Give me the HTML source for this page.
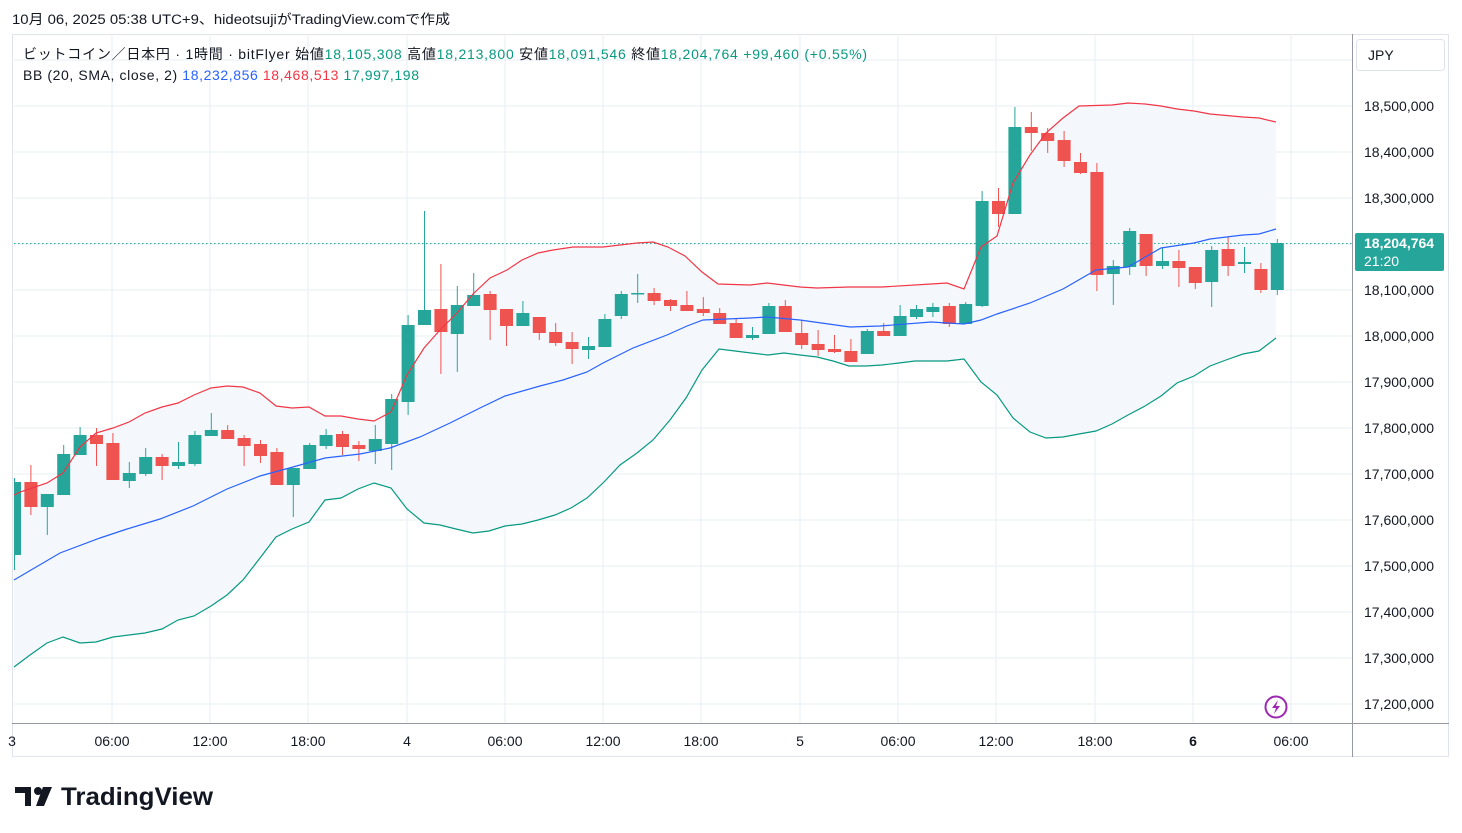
<!DOCTYPE html>
<html><head><meta charset="utf-8">
<style>
body{margin:0;background:#fff;width:1462px;height:833px;overflow:hidden;font-family:"Liberation Sans","Noto Sans CJK JP",sans-serif;}
svg{position:absolute;left:0;top:0}
</style></head><body>
<svg id="s" width="1462" height="833" xmlns="http://www.w3.org/2000/svg" font-family="Liberation Sans, Noto Sans CJK JP, sans-serif"></svg>
<script>
const s=document.getElementById('s');
let h='';
h+='<rect x="12.5" y="34.5" width="1436" height="722" fill="none" stroke="#e0e3eb"/>';
for(let k=-1;k<14;k++){const y=106+k*46;h+=`<line x1="14" x2="1352" y1="${y}" y2="${y}" stroke="#e8eff6"/>`;}
const vx=[112,210,308,407,505,603,701,800,898,996,1095,1193,1291];
vx.forEach(x=>h+=`<line x1="${x}" x2="${x}" y1="34" y2="723" stroke="#e8eff6"/>`);
const up=[[14,495],[20,492],[47,483],[63,473],[80,447],[96,433],[113,428],[129,422],[145,413],[162,407],[178,403],[194,395],[211,388],[227,386],[243,387],[260,393],[276,406],[292,408],[309,407],[325,416],[341,416],[358,419],[374,421],[391,412],[407,375],[424,348],[440,330],[457,313],[473,294],[490,278],[507,270],[522,260],[538,253],[553,250],[573,247],[603,247],[637,243],[653,242],[668,247],[685,256],[702,272],[718,284],[750,285],[767,283],[800,287],[817,288],[849,287],[882,287],[931,284],[947,283],[964,289],[981,247],[997,236],[1013,183],[1030,155],[1046,133],[1063,118],[1079,106],[1112,105],[1128,103],[1145,104],[1161,106],[1177,109],[1194,111],[1210,114],[1243,117],[1259,118],[1276,122]];
const mid=[[14,580],[60,553],[100,538],[127,529],[160,519],[193,506],[227,489],[260,476],[293,467],[325,458],[360,454],[390,448],[420,437],[450,423],[480,408],[505,396],[540,386],[563,380],[587,372],[603,363],[633,348],[667,335],[687,326],[703,320],[750,318],[767,317],[800,320],[850,327],[880,326],[931,322],[964,324],[981,320],[997,314],[1030,303],[1063,289],[1096,270],[1128,267],[1161,248],[1194,243],[1210,239],[1243,235],[1259,234],[1276,229]];
const lo=[[14,667],[30,655],[47,643],[63,637],[80,643],[96,642],[113,637],[129,635],[145,633],[162,629],[178,620],[194,616],[211,606],[227,595],[243,580],[260,558],[276,537],[292,529],[309,522],[325,500],[341,498],[358,489],[374,483],[391,488],[407,509],[424,523],[440,525],[456,529],[473,533],[489,531],[505,526],[522,524],[538,520],[555,515],[571,508],[587,498],[604,482],[620,465],[637,453],[653,440],[670,420],[686,398],[702,370],[719,349],[735,351],[751,353],[768,355],[784,353],[800,355],[817,357],[833,361],[849,366],[866,366],[882,365],[899,363],[915,361],[931,361],[947,361],[964,359],[981,382],[997,395],[1013,418],[1030,432],[1046,438],[1063,437],[1079,434],[1096,431],[1112,424],[1128,415],[1145,406],[1161,396],[1177,383],[1194,376],[1210,366],[1226,360],[1243,354],[1259,351],[1276,338]];
const pts=a=>a.map(p=>p.join(',')).join(' ');
h+=`<polygon points="${pts(up)} ${pts(lo.slice().reverse())}" fill="#f4f8fd"/>`;
h+='<line x1="14" x2="1352" y1="243.5" y2="243.5" stroke="#26a69a" stroke-dasharray="1.5,2.5"/>';
const C=[[555,482,478,570],[482,507,465,515],[507,494,494,535],[495,454,445,495],[455,435,427,455],[435,444,428,466],[443,480,433,480],[481,473,462,488],[474,457,448,476],[457,466,454,480],[466,462,442,469],[464,435,431,466],[436,430,413,436],[430,439,425,439],[438,446,435,466],[444,456,440,463],[452,485,448,485],[485,468,468,517],[469,445,443,469],[446,435,429,449],[434,447,431,455],[445,449,441,461],[451,439,425,464],[444,399,394,470],[402,325,315,415],[325,310,211,325],[309,332,264,374],[334,305,286,372],[306,295,273,306],[294,310,291,340],[309,326,309,346],[326,313,301,326],[317,333,317,340],[332,343,323,346],[342,349,332,364],[350,346,337,359],[347,319,314,347],[316,294,291,319],[293,293,274,303],[293,301,288,305],[300,306,299,311],[305,311,291,311],[309,313,297,316],[313,324,308,324],[323,338,318,338],[338,335,327,340],[334,306,303,334],[306,332,300,332],[333,345,320,349],[344,350,330,356],[349,352,335,353],[351,362,339,362],[354,331,329,354],[331,336,323,336],[336,316,305,336],[317,309,305,319],[312,307,303,317],[306,324,303,327],[324,304,302,324],[306,201,191,307],[201,214,188,227],[214,127,107,214],[127,133,112,151],[133,141,128,153],[140,161,131,167],[162,173,153,174],[172,275,163,291],[274,266,260,305],[267,231,228,275],[234,266,234,276],[266,261,248,269],[261,268,250,287],[267,283,267,289],[282,250,246,307],[249,266,237,276],[264,262,247,273],[269,290,263,293],[290,243,239,295]];
h+='<clipPath id="cp"><rect x="14" y="34" width="1338" height="689"/></clipPath><g clip-path="url(#cp)">';
C.forEach((c,i)=>{const x=14.5+16.4*i;const [o,cl,hi,lw]=c;const g=cl<=o;const col=g?'#26a69a':'#ef5350';
const t=Math.min(o,cl),b=Math.max(o,cl);
h+=`<line x1="${x}" x2="${x}" y1="${hi}" y2="${lw}" stroke="${col}"/>`;
h+=`<rect x="${x-6.5}" y="${t}" width="13" height="${Math.max(1.5,b-t)}" fill="${col}"/>`;});
h+='</g>';
h+=`<polyline points="${pts(up)}" fill="none" stroke="#f23645" stroke-width="1.2"/>`;
h+=`<polyline points="${pts(mid)}" fill="none" stroke="#2962ff" stroke-width="1.2"/>`;
h+=`<polyline points="${pts(lo)}" fill="none" stroke="#089981" stroke-width="1.2"/>`;
h+='<line x1="1352.5" x2="1352.5" y1="34" y2="757" stroke="#9598a1"/>';
h+='<line x1="12" x2="1449" y1="723.5" y2="723.5" stroke="#9598a1"/>';
const pl=['18,500,000','18,400,000','18,300,000','18,200,000','18,100,000','18,000,000','17,900,000','17,800,000','17,700,000','17,600,000','17,500,000','17,400,000','17,300,000','17,200,000'];
pl.forEach((t,k)=>{if(k==3)return;h+=`<text x="1364" y="${111+k*46}" font-size="14" fill="#131722">${t}</text>`;});
h+='<rect x="1355" y="233" width="89" height="38" fill="#26a69a" rx="2"/>';
h+='<text x="1364" y="248" font-size="14" font-weight="bold" fill="#fff">18,204,764</text>';
h+='<text x="1364" y="266" font-size="14" fill="#fff">21:20</text>';
h+='<rect x="1356.5" y="39.5" width="88" height="31" fill="#fff" stroke="#e0e3eb" rx="3"/>';
h+='<text x="1368" y="60" font-size="14" fill="#131722">JPY</text>';
const xl=[['3',12],['06:00',112],['12:00',210],['18:00',308],['4',407],['06:00',505],['12:00',603],['18:00',701],['5',800],['06:00',898],['12:00',996],['18:00',1095],['6',1193],['06:00',1291]];
xl.forEach(([t,x])=>h+=`<text x="${x}" y="746" font-size="14" text-anchor="middle" fill="#131722"${t=='6'?' font-weight="bold"':''}>${t}</text>`);
h+='<circle cx="1276" cy="707" r="10.5" fill="#fff" stroke="#9c27b0" stroke-width="2"/>';
h+='<path d="M1278 700 L1272 708 L1276 708 L1274 714 L1280 706 L1276 706 Z" fill="#9c27b0"/>';
h+='<text x="12" y="24" font-size="13.5" fill="#131722" textLength="438" lengthAdjust="spacingAndGlyphs">10月 06, 2025 05:38 UTC+9、hideotsujiがTradingView.comで作成</text>';
h+='<text x="23" y="59" font-size="14" fill="#131722" textLength="844" lengthAdjust="spacing">ビットコイン／日本円 · 1時間 · bitFlyer  始値<tspan fill="#089981">18,105,308</tspan> 高値<tspan fill="#089981">18,213,800</tspan> 安値<tspan fill="#089981">18,091,546</tspan> 終値<tspan fill="#089981">18,204,764</tspan> <tspan fill="#089981">+99,460 (+0.55%)</tspan></text>';
h+='<text x="23" y="80" font-size="14" fill="#131722" textLength="396" lengthAdjust="spacing">BB (20, SMA, close, 2) <tspan fill="#2962ff">18,232,856</tspan> <tspan fill="#f23645">18,468,513</tspan> <tspan fill="#089981">17,997,198</tspan></text>';
h+='<path d="M15 787 H31 V806 H25 V793 H15 Z" fill="#131722"/><circle cx="38" cy="791" r="4" fill="#131722"/><path d="M43 787 H52 L44 806 H36 Z" fill="#131722"/>';
h+='<text x="61" y="805" font-size="25" font-weight="bold" fill="#131722" textLength="152" lengthAdjust="spacingAndGlyphs">TradingView</text>';
s.innerHTML=h;
</script>
</body></html>
